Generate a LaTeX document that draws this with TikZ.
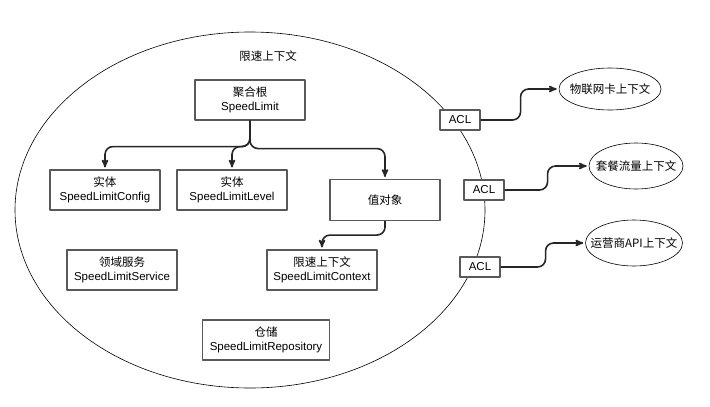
\documentclass[tikz,border=0pt]{standalone}
\usepackage{fontspec}
\setmainfont{Liberation Sans}
\newfontfamily\cjk{Noto Sans CJK SC}
\usetikzlibrary{arrows,shapes.geometric}

\begin{document}
\begin{tikzpicture}[x=1pt,y=-1pt,>=stealth',line join=round,font=\fontsize{11.5}{13.5}\selectfont]
        \tikzstyle{box}=[draw=black!65,line width=1.1pt,fill=white,minimum width=110pt,minimum height=40pt,align=center,inner sep=2pt]
        \tikzstyle{acl}=[box,minimum width=40pt,minimum height=20pt]
        \tikzstyle{ctx}=[ellipse,draw=black,line width=0.6pt,fill=white,inner sep=0pt]
        \tikzstyle{link}=[->,draw=black!85,line width=1.6pt,rounded corners=8pt,shorten >=2pt]
        \useasboundingbox (0,0) rectangle (710,407);
        \node[ellipse,draw,line width=0.6pt,minimum width=470pt,minimum height=356pt] (bc) at (250,210) {};
        \node (title) at (268,56) {\cjk 限速上下文};
        \node[box]                    (root)    at (250,100) {{\cjk 聚合根}\\SpeedLimit};
        \node[box]                    (config)  at (105,190) {{\cjk 实体}\\SpeedLimitConfig};
        \node[box]                    (level)   at (232,190) {{\cjk 实体}\\SpeedLimitLevel};
        \node[box,minimum height=41pt] (vo)     at (385,200) {\cjk 值对象};
        \node[box]                    (service) at (122,270) {{\cjk 领域服务}\\SpeedLimitService};
        \node[box]                    (context) at (322,270) {{\cjk 限速上下文}\\SpeedLimitContext};
        \node[box,minimum width=127pt] (repo)   at (266,340) {{\cjk 仓储}\\SpeedLimitRepository};
        \node[acl] (acl1) at (460,120) {ACL};
        \node[acl] (acl2) at (484,190) {ACL};
        \node[acl] (acl3) at (480,267) {ACL};
        \node[ctx,minimum width=102pt,minimum height=42pt] (iot)  at (610,89)  {\makebox[0pt]{\cjk 物联网卡上下文}};
        \node[ctx,minimum width=94pt,minimum height=46pt]  (plan) at (636,166) {\makebox[0pt]{\cjk 套餐流量上下文}};
        \node[ctx,minimum width=97pt,minimum height=46pt]  (isp)  at (634,243) {\makebox[0pt]{\cjk 运营商API上下文}};
        \draw[link] (root.south) -- ++(0,26) -| (config.north);
        \draw[link] (root.south) -- ++(0,26) -| (level.north);
        \draw[link] (root.south) -- ++(0,28) -| (vo.north);
        \draw[link] (vo.south) -- ++(0,14) -| (context.north);
        \draw[link] (acl1.east) -- ++(40,0) |- (iot.west);
        \draw[link] (acl2.east) -- ++(43,0) |- (plan.west);
        \draw[link] (acl3.east) -- ++(45,0) |- (isp.west);
    \end{tikzpicture}
\end{document}
